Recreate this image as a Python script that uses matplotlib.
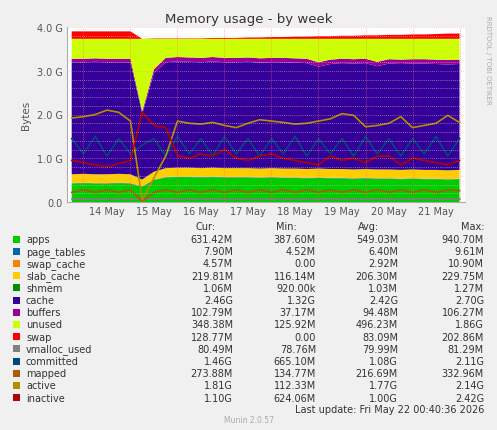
import matplotlib
matplotlib.use("Agg")
import matplotlib.pyplot as plt
import matplotlib.dates as mdates
import numpy as np
import datetime as dt

start = dt.datetime(2026, 5, 13, 18, 0)
times = [start + dt.timedelta(hours=6 * i) for i in range(34)]

apps = [0.42,0.43,0.42,0.42,0.43,0.42,0.35,0.50,0.56,0.57,0.57,0.56,0.57,0.56,0.56,0.56,0.55,0.56,0.55,0.55,0.54,0.55,0.54,0.54,0.53,0.54,0.53,0.53,0.52,0.53,0.52,0.52,0.51,0.52]
page_tables = [0.008] * 34
swap_cache = [0.005] * 34
slab_cache = [0.20,0.20,0.20,0.20,0.20,0.20,0.15,0.18] + [0.20] * 26
shmem = [0.001] * 34
cache = [2.56,2.55,2.57,2.56,2.55,2.56,1.50,2.25,2.42,2.43,2.42,2.42,2.43,2.42,2.42,2.43,2.42,2.42,2.43,2.42,2.42,2.33,2.40,2.42,2.42,2.42,2.36,2.42,2.42,2.42,2.43,2.42,2.42,2.42]
buffers = [0.08] * 6 + [0.06, 0.09] + [0.10] * 26
unused = [0.456,0.456,0.446,0.456,0.456,0.456,1.656,0.696,0.436,0.416,0.426,0.436,0.416,0.436,0.436,0.426,0.446,0.436,0.436,0.446,0.456,0.536,0.476,0.456,0.466,0.456,0.526,0.466,0.476,0.466,0.466,0.476,0.486,0.476]
swap = [0.17] * 6 + [0.0, 0.01, 0.01, 0.01] + [0.01,0.01,0.02,0.02,0.02,0.03,0.03,0.04,0.04,0.05,0.05,0.06,0.06,0.07,0.07,0.08,0.08,0.09,0.09,0.10,0.10,0.11,0.12,0.12]

vmalloc_used = [0.08] * 34
committed = [1.45,1.10,1.50,1.05,1.45,1.10,1.30,1.45,1.05,1.50,1.10,1.45,1.05,1.50,1.10,1.45,1.05,1.45,1.10,1.50,1.05,1.45,1.10,1.45,1.05,1.50,1.10,1.45,1.05,1.45,1.10,1.50,1.05,1.45]
mapped = [0.22,0.28,0.22,0.28,0.22,0.28,0.02,0.22,0.28,0.22,0.28,0.22,0.28,0.22,0.28,0.22,0.28,0.22,0.28,0.22,0.28,0.22,0.28,0.22,0.28,0.22,0.28,0.22,0.28,0.22,0.28,0.22,0.28,0.26]
active = [1.92,1.95,2.00,2.10,2.05,1.85,0.05,0.55,1.05,1.85,1.80,1.78,1.82,1.75,1.70,1.80,1.88,1.85,1.82,1.78,1.80,1.85,1.90,2.02,1.98,1.72,1.75,1.80,1.95,1.70,1.75,1.80,1.98,1.82]
inactive = [0.95,0.90,0.85,0.80,0.88,0.95,2.05,1.75,1.70,1.05,1.00,1.10,1.05,1.20,1.00,0.95,1.05,1.10,1.00,0.95,0.90,0.85,1.05,0.95,1.00,0.90,1.05,1.05,0.85,1.00,0.95,0.90,0.85,0.95]

names = ["apps","page_tables","swap_cache","slab_cache","shmem","cache","buffers","unused","swap",
         "vmalloc_used","committed","mapped","active","inactive"]
colors = ["#00CC00","#0066B3","#FF8000","#FFCC00","#008F00","#330099","#990099","#CCFF00","#FF0000",
          "#808080","#00487D","#B35A00","#B38F00","#B30000"]
cur = ["631.42M","7.90M","4.57M","219.81M","1.06M","2.46G","102.79M","348.38M","128.77M","80.49M","1.46G","273.88M","1.81G","1.10G"]
mn = ["387.60M","4.52M","0.00","116.14M","920.00k","1.32G","37.17M","125.92M","0.00","78.76M","665.10M","134.77M","112.33M","624.06M"]
avg = ["549.03M","6.40M","2.92M","206.30M","1.03M","2.42G","94.48M","496.23M","83.09M","79.99M","1.08G","216.69M","1.77G","1.00G"]
mx = ["940.70M","9.61M","10.90M","229.75M","1.27M","2.70G","106.27M","1.86G","202.86M","81.29M","2.11G","332.96M","2.14G","2.42G"]

W, H = 497, 431
fig = plt.figure(figsize=(W/100, H/100), dpi=100, facecolor="#F0F0F0")
ax = fig.add_axes([67/W, 1-203/H, (465-67)/W, (203-28)/H], facecolor="white")

stack = [apps, page_tables, swap_cache, slab_cache, shmem, cache, buffers, unused, swap]
ax.stackplot(times, *[np.array(s) for s in stack], colors=colors[:9], linewidth=0)
lines = [vmalloc_used, committed, mapped, active, inactive]
for s, c in zip(lines, colors[9:]):
    ax.plot(times, s, color=c, lw=1.2)

x0 = dt.datetime(2026, 5, 13, 15, 36)
x1 = dt.datetime(2026, 5, 22, 2, 48)
ax.set_xlim(x0, x1)
ax.set_ylim(0, 4.0)
for y in np.arange(0.2, 4.01, 0.2):
    ax.axhline(y, color="#FF9999" if abs(y % 1) < 1e-6 or abs(y % 1 - 1) < 1e-6 else "#E8C8C8",
               lw=0.5, ls=(0, (1, 2)), zorder=3)
for d in range(14, 23):
    ax.axvline(dt.datetime(2026, 5, d), color="#FF6666", lw=0.5, ls=(0, (1, 2)), zorder=3)
ax.set_yticks([0, 1, 2, 3, 4])
ax.set_yticklabels(["0.0", "1.0 G", "2.0 G", "3.0 G", "4.0 G"])
ax.set_xticks([dt.datetime(2026, 5, d, 12) for d in range(14, 22)])
ax.xaxis.set_major_formatter(mdates.DateFormatter("%d %b"))
ax.tick_params(labelsize=7, colors="#555555", length=0, pad=3)
for sp in ["top", "right"]:
    ax.spines[sp].set_visible(False)
for sp in ["left", "bottom"]:
    ax.spines[sp].set_color("#AAAAAA")
ax.set_ylabel("Bytes", fontsize=7.5, color="#555555")
fig.text(0.5, 1-19/H, "Memory usage - by week", ha="center", va="center", fontsize=9.5, color="#333333")
fig.text(488/W, 1-60/H, "RRDTOOL / TOBI OETIKER", rotation=270, ha="center", va="center", fontsize=5, color="#AAAAAA")

fs = 7
tc = "#333333"
for x, t in zip([216, 297, 379, 484], ["Cur:", "Min:", "Avg:", "Max:"]):
    fig.text(x/W, 1-227/H, t, ha="right", va="center", fontsize=fs, color=tc)
for i, n in enumerate(names):
    y = 240 + i * 12.2
    fig.patches.append(plt.Rectangle((13/W, 1-(y+3.5)/H), 7/W, 7/H, transform=fig.transFigure,
                                     facecolor=colors[i], edgecolor="none"))
    fig.text(26/W, 1-y/H, n, ha="left", va="center", fontsize=fs, color=tc)
    for x, v in zip([233, 316, 398, 484], [cur[i], mn[i], avg[i], mx[i]]):
        fig.text(x/W, 1-y/H, v, ha="right", va="center", fontsize=fs, color=tc)
fig.text(484/W, 1-410/H, "Last update: Fri May 22 00:40:36 2026", ha="right", va="center", fontsize=fs, color=tc)
fig.text(0.5, 1-421/H, "Munin 2.0.57", ha="center", va="center", fontsize=5.5, color="#AAAAAA")

fig.savefig("out.png", dpi=100, facecolor=fig.get_facecolor())
